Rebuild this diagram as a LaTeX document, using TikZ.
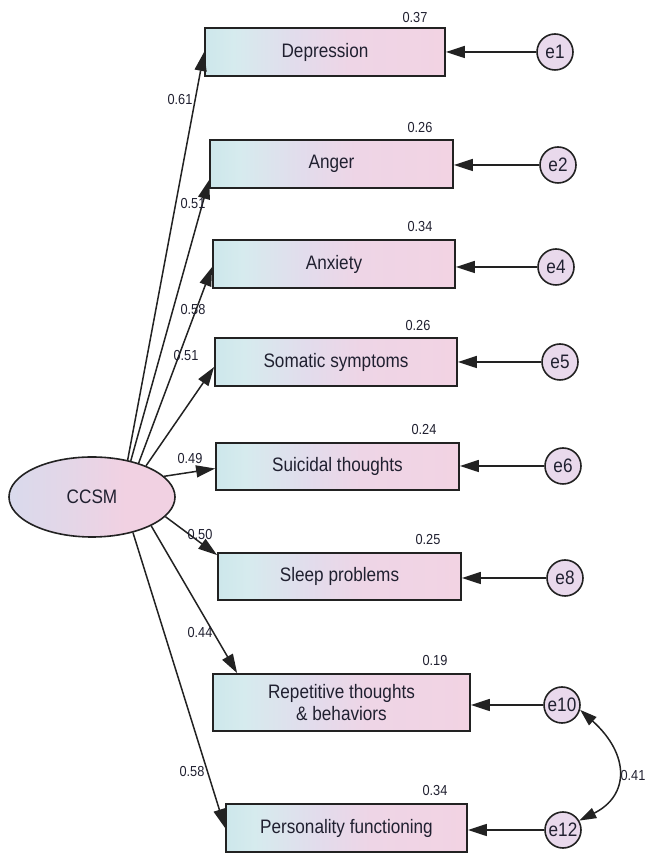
\documentclass[tikz,border=0pt]{standalone}
\usepackage{fontspec}
\setmainfont{Liberation Sans}[FakeStretch=0.88]
\usetikzlibrary{arrows.meta,shapes.geometric}
\definecolor{bA}{HTML}{CDE7EB}
\definecolor{bB}{HTML}{D6EBEE}
\definecolor{bC}{HTML}{E2DCEC}
\definecolor{bD}{HTML}{EED5E6}
\definecolor{bE}{HTML}{F2D3E3}
\definecolor{lA}{HTML}{D9DAEC}
\definecolor{lB}{HTML}{F1D1E2}
\definecolor{errfill}{HTML}{E9D9EC}
\definecolor{edge}{HTML}{222222}
\definecolor{txt}{HTML}{202030}
\pgfdeclarehorizontalshading{boxshade}{100bp}{color(0bp)=(bA); color(25bp)=(bA); color(31bp)=(bB); color(44bp)=(bC); color(55bp)=(bD); color(75bp)=(bE); color(100bp)=(bE)}
\pgfdeclarehorizontalshading{latshade}{100bp}{color(0bp)=(lA); color(25bp)=(lA); color(45bp)=(lA!50!lB); color(60bp)=(lB); color(100bp)=(lB)}
\begin{document}
\begin{tikzpicture}[x=1pt,y=1pt,
  obs/.style={draw=edge, line width=1.8pt, shade, shading=boxshade, minimum width=240pt, minimum height=48pt, inner sep=0pt, text=txt, font=\fontsize{19.5}{22}\selectfont},
  err/.style={circle, draw=edge, line width=1.6pt, fill=errfill, minimum size=36pt, inner sep=0pt, text=txt, font=\fontsize{19.5}{21}\selectfont},
  lat/.style={ellipse, draw=edge, line width=1.6pt, shade, shading=latshade, minimum width=166pt, minimum height=80pt, inner sep=0pt, text=txt, font=\fontsize{19.5}{21}\selectfont},
  num/.style={font=\fontsize{14.5}{16}\selectfont, inner sep=0pt, text=txt},
  ld/.style={line width=1.5pt, draw=edge, -{Triangle[length=19pt,width=12pt]}}
]
\useasboundingbox (0,0) rectangle (648,854);

\node[lat] (ccsm) at (92,357) {CCSM};

\node[obs] (dep) at (325,802) {Depression};
\node[obs, minimum width=243pt] (ang) at (331.5,690) {Anger};
\node[obs, minimum width=242pt] (anx) at (334,590) {Anxiety};
\node[obs, minimum width=242pt] (som) at (336,492) {Somatic symptoms};
\node[obs, minimum width=243pt, minimum height=47pt] (sui) at (337.5,387.5) {Suicidal thoughts};
\node[obs, minimum width=243pt, minimum height=47pt] (sle) at (339.5,277.5) {Sleep problems};
\node[obs, minimum width=257pt, minimum height=57pt, align=center] (rep) at (341.5,151.5) {Repetitive thoughts\\\& behaviors};
\node[obs, minimum width=241pt] (per) at (346.5,26) {Personality functioning};

\node[err] (e1) at (555,802) {e1};
\node[err] (e2) at (558,689) {e2};
\node[err] (e4) at (556,587) {e4};
\node[err] (e5) at (560,492) {e5};
\node[err] (e6) at (563,388) {e6};
\node[err] (e8) at (565,276) {e8};
\node[err] (e10) at (562,149) {e10};
\node[err] (e12) at (563,24) {e12};

\node[num] (r1) at (415,836) {0.37};
\node[num] (r2) at (420,726) {0.26};
\node[num] (r4) at (420,627) {0.34};
\node[num] (r5) at (418,528) {0.26};
\node[num] (r6) at (424,424) {0.24};
\node[num] (r8) at (428,314) {0.25};
\node[num] (r10) at (435,193) {0.19};
\node[num] (r12) at (435,63) {0.34};

\draw[ld] (ccsm.46) -- (dep.west);
\draw[ld] (ccsm.43) -- ([yshift=-16pt]ang.west);
\draw[ld] (ccsm.36) -- ([yshift=-3pt]anx.west);
\draw[ld] (ccsm.30) -- ([yshift=-5pt]som.west);
\draw[ld] (ccsm.16) -- ([yshift=-2pt]sui.west);
\draw[ld] (ccsm.-15) -- ([yshift=-3pt]sle.north west);
\draw[ld] (ccsm.-26) -- ([xshift=25pt]rep.north west);
\draw[ld] (ccsm.-41) -- (per.west);

\node[num] (l1) at (180,754) {0.61};
\node[num] (l2) at (193,650) {0.51};
\node[num] (l4) at (193,544) {0.58};
\node[num] (l5) at (186,498) {0.51};
\node[num] (l6) at (190,395) {0.49};
\node[num] (l8) at (200,319) {0.50};
\node[num] (l10) at (200,221) {0.44};
\node[num] (l12) at (192,82) {0.58};

\draw[ld] (e1) -- (e1 -| dep.east);
\draw[ld] (e2) -- (e2 -| ang.east);
\draw[ld] (e4) -- (e4 -| anx.east);
\draw[ld] (e5) -- (e5 -| som.east);
\draw[ld] (e6) -- (e6 -| sui.east);
\draw[ld] (e8) -- (e8 -| sle.east);
\draw[ld] (e10) -- (e10 -| rep.east);
\draw[ld] (e12) -- (e12 -| per.east);

\draw[line width=1.5pt, draw=edge, {Triangle[length=17pt,width=11pt]}-{Triangle[length=17pt,width=11pt]}] (e10.-15) .. controls +(50,-45) and +(50,25) .. (e12.30);
\node[num] (c1) at (633,78) {0.41};
\end{tikzpicture}
\end{document}
